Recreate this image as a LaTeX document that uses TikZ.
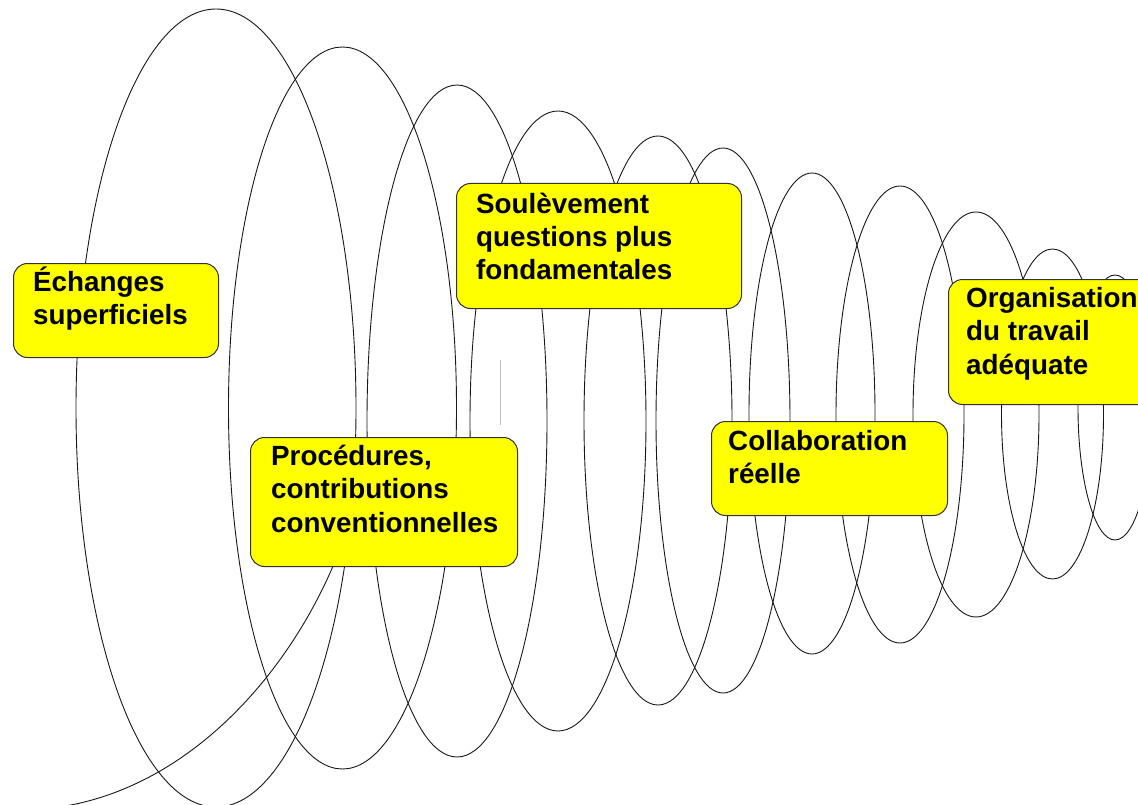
\documentclass[tikz,border=0pt]{standalone}
\usepackage{fontspec}
\setmainfont{Liberation Sans}
\usepackage{tikz}
\usetikzlibrary{positioning}

\definecolor{boxyellow}{RGB}{255,255,0}

\begin{document}
\begin{tikzpicture}[
  x=1pt, y=-1pt,
  coil/.style={draw=black!90, line width=0.9pt},
  box/.style={draw=black!80, line width=1pt, rounded corners=14pt, fill=boxyellow, inner sep=0pt, anchor=north west},
  txt/.style={inner sep=0pt, align=left, font=\fontsize{27.8}{33.4}\selectfont\bfseries}
]

% Canvas
\fill[white] (0,0) rectangle (1138,805);
\useasboundingbox (0,0) rectangle (1138,805);
\clip (0,0) rectangle (1138,805);

% Loops of the spiral, from big to small
\foreach \cx/\cy/\rx/\ry in {216/408/140/399, 342.5/408/114/361, 457/421/90/336,
    558/421/88/310, 658/420.5/74/284.5, 723/420.5/67/272.5, 812/413.5/63/240.5,
    900/414.5/64/228.5, 976/414.5/63/202.5, 1052.5/414/51/165, 1115/407.5/37/132.5}
  \draw[coil] (\cx,\cy) ellipse [x radius=\rx pt, y radius=\ry pt];

% Tail running in under the second box
\draw[coil] (52,808) .. controls (200,790) and (310,650) .. (350,520);

% stray mark
\draw[gray!50, line width=0.8pt] (500,360) -- (500,425);

% Boxes
\node[box, minimum width=205pt, minimum height=94pt] (echanges) at (13,263) {};
\node[box, minimum width=267pt, minimum height=129pt] (procedures) at (250,437) {};
\node[box, minimum width=285pt, minimum height=125pt] (soulevement) at (456,183) {};
\node[box, minimum width=236pt, minimum height=94pt] (collaboration) at (711,421) {};
\node[box, minimum width=205pt, minimum height=125pt] (organisation) at (948,279) {};

% Texts
\node[txt, below right=1pt and 20pt of echanges.north west] (echangesTxt)
  {\rule{0pt}{27pt}Échanges\\superficiels};
\node[txt, below right=1pt and 21pt of procedures.north west] (proceduresTxt)
  {\rule{0pt}{27pt}Procédures,\\contributions\\conventionnelles};
\node[txt, below right=3pt and 20pt of soulevement.north west] (soulevementTxt)
  {\rule{0pt}{27pt}Soulèvement\\questions plus\\fondamentales};
\node[txt, below right=2pt and 17pt of collaboration.north west] (collaborationTxt)
  {\rule{0pt}{27pt}Collaboration\\réelle};
\node[txt, below right=1pt and 18pt of organisation.north west] (organisationTxt)
  {\rule{0pt}{27pt}Organisation\\du travail\\adéquate};

\end{tikzpicture}
\end{document}
